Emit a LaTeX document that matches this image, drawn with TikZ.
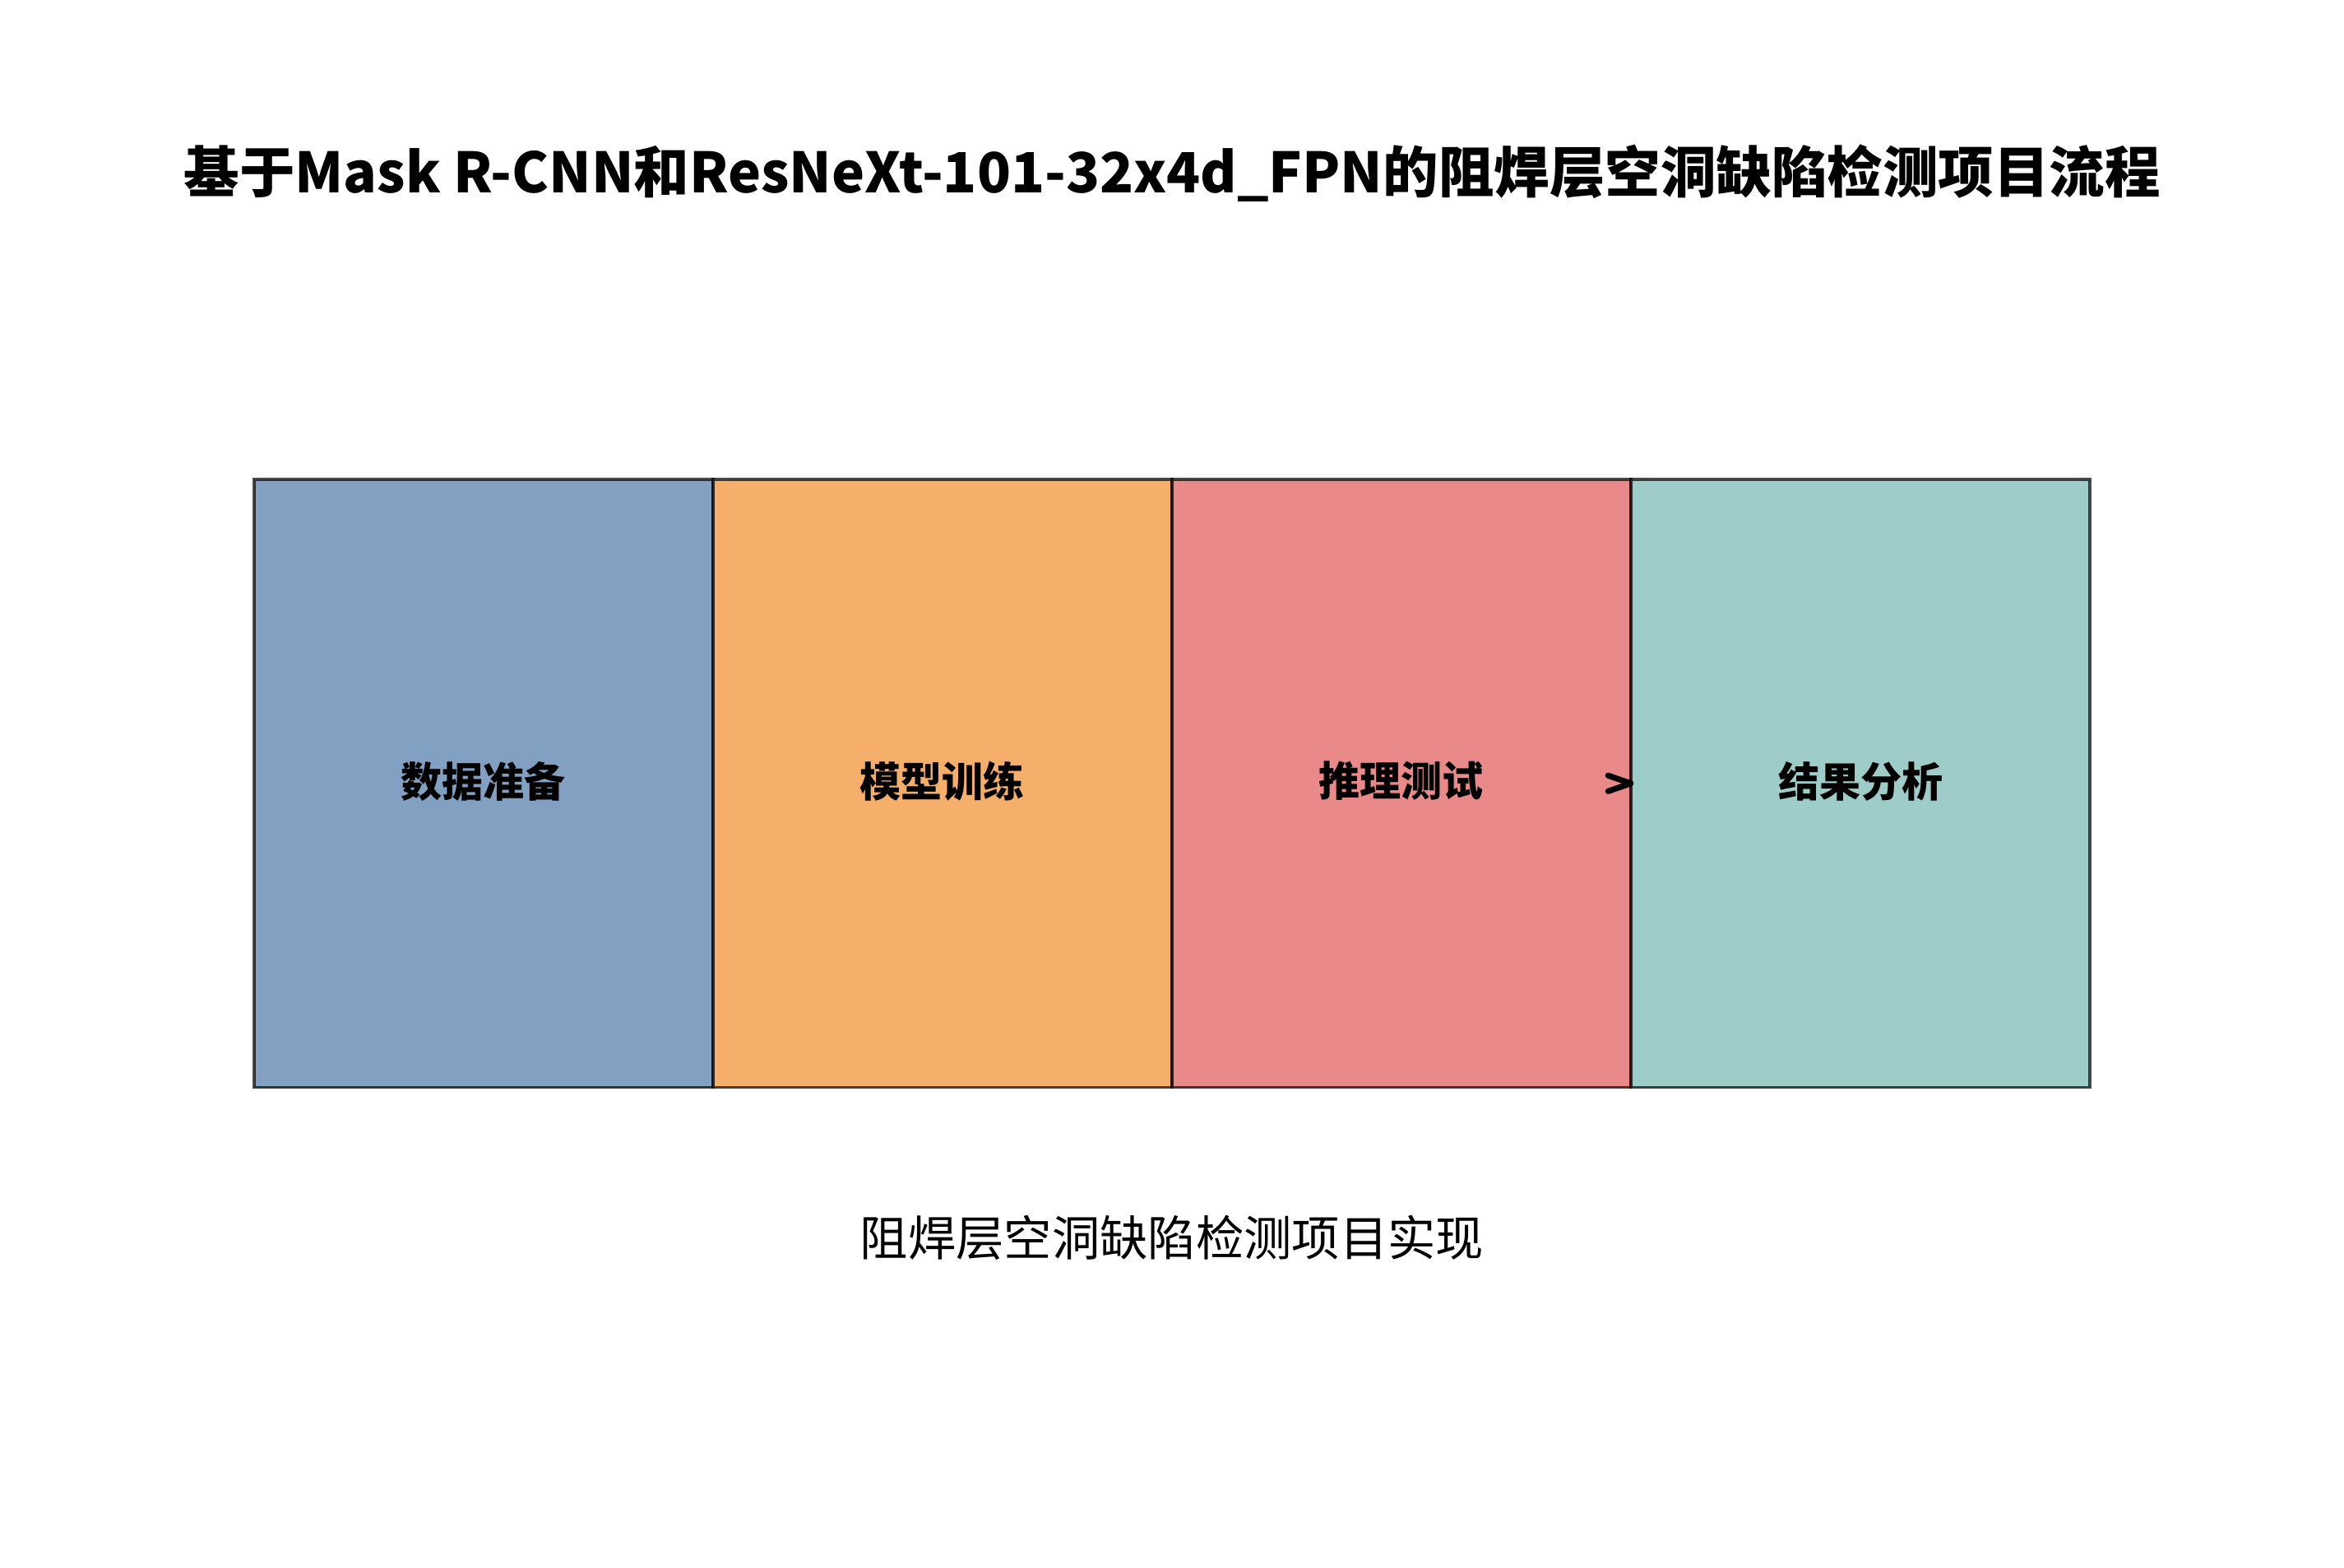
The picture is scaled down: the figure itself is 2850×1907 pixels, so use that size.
\documentclass[tikz,border=0pt]{standalone}
\usepackage{fontspec}
\setmainfont{Noto Sans CJK SC}
\usetikzlibrary{arrows.meta}
\definecolor{cblue}{HTML}{4E79A7}
\definecolor{corange}{HTML}{F28E2B}
\definecolor{cred}{HTML}{E15759}
\definecolor{cteal}{HTML}{76B7B2}
\newcommand\stagetext[1]{\raisebox{0.66pt}[\height][\depth]{#1}}
\begin{document}
\begin{tikzpicture}[x=0.24pt,y=-0.24pt,
  stagebox/.style={draw=black, draw opacity=0.7, fill opacity=0.7, text opacity=1,
    line width=0.9pt, minimum width=133.94pt, minimum height=177.48pt,
    inner sep=0pt, outer sep=0pt, font=\fontsize{12}{14}\selectfont\bfseries},
  flowarrow/.style={-{Straight Barb[length=6.6pt, width=4.6pt, line cap=round, line join=round]},
    line width=1.7pt, black, line cap=round},
  titletext/.style={font=\fontsize{16.2}{19}\selectfont\bfseries},
  subtext/.style={font=\fontsize{14}{17}\selectfont}]
\path[fill=white] (0,0) rectangle (2850,1907);
\useasboundingbox (0,0) rectangle (2850,1907);
\node[titletext] (title) at (1425,211) {基于Mask R-CNN和ResNeXt-101-32x4d\_FPN的阻焊层空洞缺陷检测项目流程};
\node[stagebox, fill=cblue] (b1) at (587.74,952.75) {\stagetext{数据准备}};
\node[stagebox, fill=corange] (b2) at (1145.82,952.75) {\stagetext{模型训练}};
\node[stagebox, fill=cred] (b3) at (1703.9,952.75) {\stagetext{推理测试}};
\node[stagebox, fill=cteal] (b4) at (2261.98,952.75) {\stagetext{结果分析}};
\draw[flowarrow] ([xshift=-1.5pt]b3.east) -- ([xshift=0.8pt]b4.west);
\node[subtext] (sub) at (1425,1505) {阻焊层空洞缺陷检测项目实现};
\end{tikzpicture}
\end{document}
